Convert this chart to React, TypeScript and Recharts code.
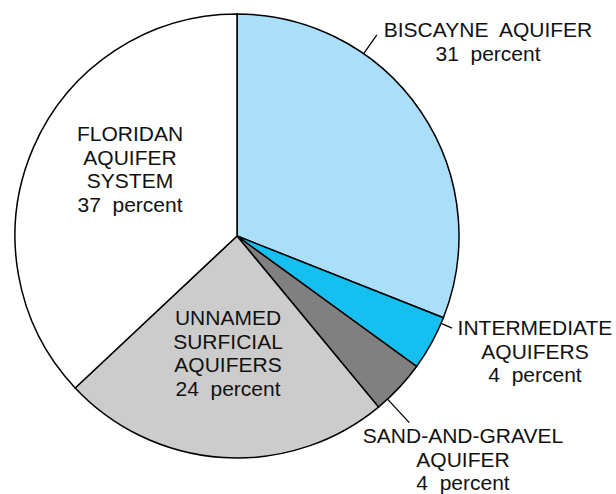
import React from 'react'
import { PieChart, Pie, Cell } from 'recharts'

// share of ground-water withdrawals by aquifer, clockwise from 12 o'clock
const aquifers = [
  'Biscayne Aquifer',
  'Intermediate Aquifers',
  'Sand-and-Gravel Aquifer',
  'Unnamed Surficial Aquifers',
  'Floridan Aquifer System',
]
const percents = [31, 4, 4, 24, 37]
const labelText = [
  ['BISCAYNE  AQUIFER'],
  ['INTERMEDIATE', 'AQUIFERS'],
  ['SAND-AND-GRAVEL', 'AQUIFER'],
  ['UNNAMED', 'SURFICIAL', 'AQUIFERS'],
  ['FLORIDAN', 'AQUIFER', 'SYSTEM'],
]

const colors = ['#abdff9', '#15bff0', '#808080', '#cccccc', '#ffffff']

// label placement relative to pie centre; leader = radial tick at given angle
const labelLayout = [
  { dx: 251, dy: -199, leaderAngle: 55.2, leaderLen: 23 },
  { dx: 298, dy: 99, leaderAngle: -23.2, leaderLen: 12 },
  { dx: 226, dy: 207, leaderAngle: -47.3, leaderLen: 32 },
  { dx: -9, dy: 89, leaderAngle: null, leaderLen: 0 },
  { dx: -107, dy: -95, leaderAngle: null, leaderLen: 0 },
]

const data = aquifers.map((name, i) => ({ name, value: percents[i] }))

const RADIAN = Math.PI / 180
const LINE_H = 23.7

function renderLabel(props: any) {
  const { cx, cy, outerRadius, index } = props
  const lay = labelLayout[index]
  const lines = [...labelText[index], `${percents[index]}  percent`]
  let leader = null
  if (lay.leaderAngle !== null) {
    const cos = Math.cos(-lay.leaderAngle * RADIAN)
    const sin = Math.sin(-lay.leaderAngle * RADIAN)
    leader = (
      <line
        x1={cx + outerRadius * cos}
        y1={cy + outerRadius * sin}
        x2={cx + (outerRadius + lay.leaderLen) * cos}
        y2={cy + (outerRadius + lay.leaderLen) * sin}
        stroke="#000"
        strokeWidth={1.3}
      />
    )
  }
  return (
    <g key={`lbl-${index}`}>
      {leader}
      {lines.map((t, k) => (
        <text
          key={k}
          x={cx + lay.dx}
          y={cy + lay.dy + k * LINE_H}
          textAnchor="middle"
          fill="#111"
          fontSize={21}
          fontFamily="'Liberation Sans', Arial, sans-serif"
          style={{ whiteSpace: 'pre' }}
        >
          {t}
        </text>
      ))}
    </g>
  )
}

export default function App() {
  return (
    <div style={{ position: 'absolute', left: 0, top: 0, background: '#fff' }}>
      <PieChart width={616} height={494} margin={{ top: 0, right: 0, bottom: 0, left: 0 }}>
        <Pie
          data={data}
          dataKey="value"
          nameKey="name"
          cx={237}
          cy={236}
          outerRadius={222}
          startAngle={90}
          endAngle={-270}
          stroke="#000"
          strokeWidth={1.5}
          label={renderLabel}
          labelLine={false}
          isAnimationActive={false}
        >
          {data.map((d, i) => (
            <Cell key={d.name} fill={colors[i]} />
          ))}
        </Pie>
      </PieChart>
    </div>
  )
}
